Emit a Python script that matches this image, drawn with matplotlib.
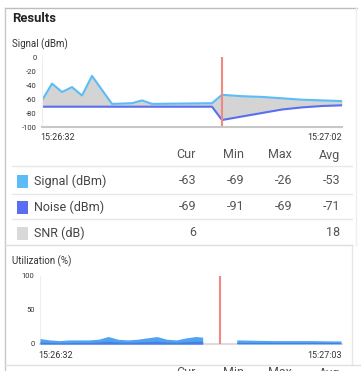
import numpy as np
import matplotlib
matplotlib.use("Agg")
import matplotlib.pyplot as plt

plt.rcParams['font.family'] = ['Roboto', 'DejaVu Sans']

# signal chart data (seconds after 15:26:32)
sig_time = [0, 1, 2, 3, 4, 5, 7, 9, 10, 11, 17, 18, 20, 22, 24, 26, 28, 30]
signal = [-62, -38, -50, -43, -55, -27, -67, -66, -62, -67, -66, -54, -56, -57, -59, -61, -62, -63]
noise = [-71, -71, -71, -71, -71, -71, -71, -71, -71, -71, -71, -90, -85, -80, -75, -72, -70, -69]
sig_ticks = [0, -20, -40, -60, -80, -100]
marker_sig = 18

# table
columns = ["Cur", "Min", "Max", "Avg"]
row_names = ["Signal (dBm)", "Noise (dBm)", "SNR (dB)"]
row_values = [["-63", "-69", "-26", "-53"],
              ["-69", "-91", "-69", "-71"],
              ["6", "", "", "18"]]

# utilization data (seconds after 15:26:32)
util_time = [0, 1, 2, 3, 4, 5, 6, 7, 8, 9, 10, 11, 12, 13, 14, 15, 16, 16.7,
             20.2, 22, 24, 26, 28, 30, 30.9]
util_total = [8, 6, 5, 6, 6, 6, 7, 11, 7, 6, 7, 9, 11, 7, 6, 9, 11, 10,
              6, 5.5, 5, 5, 5, 4.5, 4.5]
util_dark = [3, 2.5, 2, 2, 2.5, 2.5, 3, 4, 3, 2.5, 3, 3.5, 4, 3, 2.5, 3.5, 4, 4,
             2, 2, 2, 2, 2, 2, 2]
util_ticks = [0, 50, 100]
marker_util = 18.5

W, H = 361, 371
c_sig = "#5bbcf7"
c_noise = "#5b6ef2"
c_snr = "#d9d9d9"
c_red = "#f08a80"

fig = plt.figure(figsize=(W / 100, H / 100), dpi=100)
fig.patch.set_facecolor("white")


def px_axes(x0, x1, ytop, ybot):
    return fig.add_axes([x0 / W, 1 - ybot / H, (x1 - x0) / W, (ybot - ytop) / H])


# overlay in pixel coordinates
ov = fig.add_axes([0, 0, 1, 1])
ov.set_xlim(0, W)
ov.set_ylim(H, 0)
ov.axis("off")

ov.plot([5, 357], [8, 8], color="#bdbdbd", lw=1)
ov.plot([5, 5], [8, 371], color="#c8c8c8", lw=1)
ov.plot([356, 356], [8, 245], color="#eeeeee", lw=1)
ov.plot([352, 352], [245, 365], color="#e6e6e6", lw=1)
ov.plot([5, 361], [365, 365], color="#e0e0e0", lw=1)

ov.text(12, 18, "Results", fontsize=9.4, fontweight="bold", color="#222222", va="center")
ov.text(12, 44, "Signal (dBm)", fontsize=7, color="#333333", va="center")
ov.text(12, 261, "Utilization (%)", fontsize=7, color="#333333", va="center")

ov.text(40, 137, "15:26:32", fontsize=6.5, color="#333333", va="center")
ov.text(342, 137, "15:27:02", fontsize=6.5, color="#333333", va="center", ha="right")
ov.text(38, 356, "15:26:32", fontsize=6.5, color="#333333", va="center")
ov.text(342, 356, "15:27:03", fontsize=6.5, color="#333333", va="center", ha="right")

col_x = [196, 244, 292, 340]
for cx, name in zip(col_x, columns):
    ov.text(cx, 155, name, fontsize=9, color="#555555", ha="right", va="center")
    # header of the next block, cut by the bottom edge like the screenshot
    ov.text(cx, 373, name, fontsize=9, color="#555555", ha="right", va="center")

row_y = [181, 207, 233]
sw_colors = [c_sig, c_noise, c_snr]
for ry, name, vals, sc in zip(row_y, row_names, row_values, sw_colors):
    ov.add_patch(plt.Rectangle((17, ry - 6.5), 11, 13, color=sc, lw=0))
    ov.text(34, ry, name, fontsize=9, color="#444444", va="center")
    for cx, v in zip(col_x, vals):
        ov.text(cx, ry, v, fontsize=9, color="#555555", ha="right", va="center")

for ly in [166, 194, 219]:
    ov.plot([12, 352], [ly, ly], color="#e8e8e8", lw=1)
ov.plot([5, 352], [245, 245], color="#dddddd", lw=1)

# signal chart
ax = px_axes(42, 342, 57, 127)
ax.set_facecolor("none")
ax.set_xlim(0, 30)
ax.set_ylim(-100, 0)
ax.fill_between(sig_time, signal, noise, where=np.array(signal) >= np.array(noise),
                color="#d4d4d4", lw=0, interpolate=True)
ax.plot(sig_time, noise, color=c_noise, lw=1.5)
ax.plot(sig_time, signal, color=c_sig, lw=1.5)
ax.plot([marker_sig, marker_sig], [-100, 0], color=c_red, lw=1.5)
ax.set_yticks(sig_ticks)
ax.set_yticklabels([str(t) for t in sig_ticks])
ax.set_xticks([])
ax.tick_params(axis="y", length=0, pad=4, labelsize=5.5, labelcolor="#333333")
for s in ["top", "right"]:
    ax.spines[s].set_visible(False)
ax.spines["left"].set_color("#eeeeee")
ax.spines["bottom"].set_color("#c8c8c8")
ax.spines["bottom"].set_linewidth(1.5)

# utilization chart
ax2 = px_axes(40, 342, 276, 344)
ax2.set_facecolor("none")
ax2.set_xlim(0, 31)
ax2.set_ylim(0, 100)
ut = np.array(util_time)
seg = ut < marker_util
for mask in [seg, ~seg]:
    ax2.fill_between(ut, util_total, 0, where=mask, color="#4ea4f2", lw=0, zorder=3)
    ax2.fill_between(ut, util_dark, 0, where=mask, color="#4a7ce6", lw=0, zorder=3)
ax2.plot([marker_util, marker_util], [0, 100], color=c_red, lw=1.5, zorder=4)
ax2.set_yticks(util_ticks)
ax2.set_yticklabels([str(t) for t in util_ticks])
ax2.set_xticks([])
ax2.tick_params(axis="y", length=0, pad=4, labelsize=5.5, labelcolor="#333333")
for s in ["top", "right"]:
    ax2.spines[s].set_visible(False)
ax2.spines["left"].set_color("#eeeeee")
ax2.spines["bottom"].set_color("#dddddd")
ax2.spines["bottom"].set_linewidth(1.5)
ax2.spines["bottom"].set_zorder(1)

fig.savefig("out.png", dpi=100)
